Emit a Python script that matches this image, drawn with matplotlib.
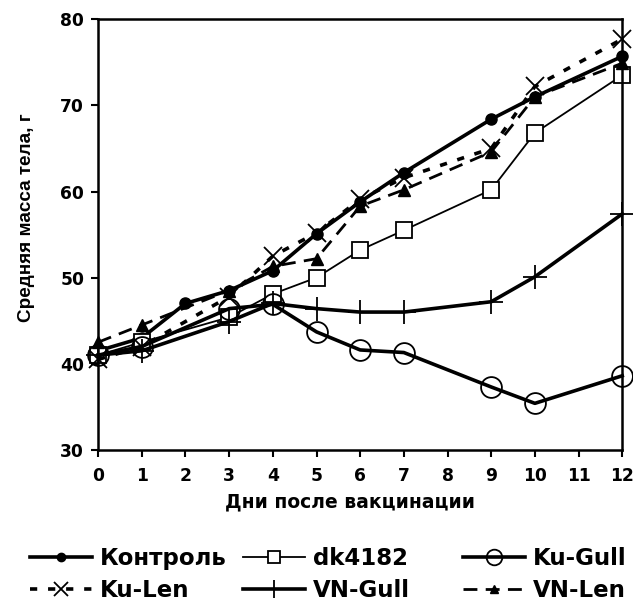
import matplotlib
matplotlib.use('Agg')
import matplotlib.pyplot as plt

plt.rcParams['font.family'] = ['DejaVu Sans']
plt.rcParams['font.weight'] = 'bold'

# days after vaccination
days_kontrol = [0, 1, 2, 3, 4, 5, 6, 7, 9, 10, 12]
kontrol = [41.5, 43.0, 47.0, 48.5, 50.8, 55.1, 58.8, 62.2, 68.4, 71.0, 75.7]

days_dk = [0, 1, 3, 4, 5, 6, 7, 9, 10, 12]
dk4182 = [41.0, 42.5, 45.4, 48.1, 50.0, 53.2, 55.5, 60.2, 66.8, 73.5]

days_kugull = [0, 1, 3, 4, 5, 6, 7, 9, 10, 12]
ku_gull = [41.0, 42.0, 46.4, 46.9, 43.7, 41.6, 41.3, 37.3, 35.4, 38.6]

days_kulen = [0, 1, 3, 4, 5, 6, 7, 9, 10, 12]
ku_len = [40.5, 42.0, 47.8, 52.5, 55.2, 59.1, 61.6, 65.0, 72.2, 77.7]

days_vngull = [0, 1, 3, 4, 5, 6, 7, 9, 10, 12]
vn_gull = [41.0, 41.5, 44.9, 47.0, 46.4, 46.0, 46.0, 47.2, 50.1, 57.4]

days_vnlen = [0, 1, 3, 4, 5, 6, 7, 9, 10, 12]
vn_len = [42.5, 44.5, 48.5, 51.3, 52.2, 58.3, 60.2, 64.6, 71.0, 74.9]

fig = plt.figure(figsize=(6.33, 6.03), dpi=100)
ax = fig.add_axes([0.155, 0.254, 0.828, 0.714])

h1, = ax.plot(days_kontrol, kontrol, color='black', lw=2.6, marker='o', ms=8,
              mfc='black', label='Контроль')
h2, = ax.plot(days_dk, dk4182, color='black', lw=1.3, marker='s', ms=11,
              mfc='white', mew=1.3, label='dk4182')
h3, = ax.plot(days_kugull, ku_gull, color='black', lw=2.6, marker='o', ms=15,
              mfc='none', mew=1.3, label='Ku-Gull')
h4, = ax.plot(days_kulen, ku_len, color='black', lw=2.6, ls=(0, (2, 3)),
              marker='x', ms=13, mew=1.3, label='Ku-Len')
h5, = ax.plot(days_vngull, vn_gull, color='black', lw=2.6, marker='+', ms=17,
              mew=1.3, label='VN-Gull')
h6, = ax.plot(days_vnlen, vn_len, color='black', lw=2.0, ls=(0, (5, 3)),
              marker='^', ms=8, mfc='black', label='VN-Len')

ax.set_xlim(0, 12)
ax.set_ylim(30, 80)
ax.set_xticks(range(0, 13))
ax.set_yticks(range(30, 81, 10))
ax.tick_params(direction='out', length=5, width=1.5, labelsize=12.3, pad=5)
ax.tick_params(axis='x', pad=7)
for s in ax.spines.values():
    s.set_linewidth(1.8)
for ln in ax.lines:
    ln.set_clip_on(False)

ax.set_xlabel('Дни после вакцинации', fontsize=13.5, fontweight='bold')
ax.xaxis.set_label_coords(0.481, -0.1)
ax.set_ylabel('Средняя масса тела, г', fontsize=13.6, fontweight='bold',
              family='Liberation Sans')
ax.yaxis.set_label_coords(-0.121, 0.54)

# legend: three columns placed by hand
cols = [(h1, h4), (h2, h5), (h3, h6)]
col_x = [30, 243, 463]
for (ha, hb), x in zip(cols, col_x):
    fig.legend(handles=[ha, hb], labels=[ha.get_label(), hb.get_label()],
               loc='upper left', bbox_to_anchor=(x / 633, 0.093), ncol=1,
               frameon=False, prop={'size': 16.5, 'weight': 'bold'},
               borderpad=0, borderaxespad=0, handlelength=2.7,
               handletextpad=0.35, labelspacing=0.4, markerscale=0.75)

fig.savefig('out.png', dpi=100)
